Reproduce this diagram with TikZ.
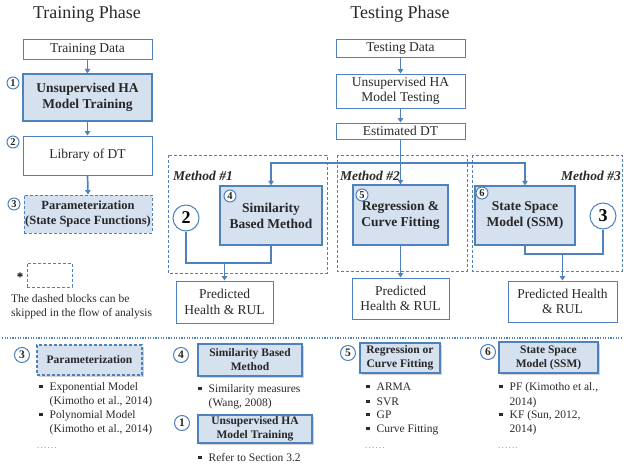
\documentclass[tikz,border=0pt]{standalone}
\usepackage{fontspec}
\setmainfont{Liberation Serif}
\usetikzlibrary{arrows.meta,shadows}
\definecolor{bl}{HTML}{4F81BD}
\definecolor{fillb}{HTML}{D6E1F0}
\definecolor{tx}{HTML}{2A2A2A}
\newcommand\sqb{\rule[2pt]{3.5pt}{3.5pt}}
\newcommand\blt{\makebox[10.5pt][l]{\sqb}}
\newcommand\mydots{.\hspace{1.2pt}.\hspace{1.2pt}.\hspace{1.2pt}.\hspace{1.2pt}.\hspace{1.2pt}.}
\begin{document}
\begin{tikzpicture}[x=1pt,y=-1pt,
  plainbox/.style={draw=bl, line width=0.9pt, fill=white, text=tx, inner sep=1pt, align=center, font=\fontsize{13.5}{15.5}\selectfont},
  shbox/.style={draw=bl, line width=1.3pt, fill=fillb, text=black!85, inner sep=1pt, align=center, font=\bfseries\fontsize{13.5}{16}\selectfont},
  dashbox/.style={draw=bl, line width=0.9pt, dash pattern=on 3pt off 2pt},
  sshadow/.style={drop shadow={shadow xshift=1.5pt, shadow yshift=-1.5pt, opacity=0.35}},
  arr/.style={draw=bl, line width=1.7pt, -{Triangle[length=4.5pt,width=5.5pt]}},
  link/.style={draw=bl, line width=1.7pt},
  numc/.style={circle, draw=bl, line width=1pt, fill=white, text=black!85, inner sep=0pt, minimum size=12pt, font=\bfseries\fontsize{10.5}{12}\selectfont},
  bnumc/.style={numc, minimum size=15pt, font=\bfseries\fontsize{11.5}{12}\selectfont},
  bignum/.style={circle, draw=bl, line width=1pt, fill=white, text=black, minimum size=26pt, inner sep=0pt, font=\bfseries\fontsize{18}{20}\selectfont},
  title/.style={text=tx, inner sep=0pt, anchor=base, font=\fontsize{18}{20}\selectfont},
  mlabel/.style={text=tx, inner sep=0pt, font=\bfseries\itshape\fontsize{13.5}{15}\selectfont},
  lst/.style={text=tx, inner sep=0pt, anchor=base west, font=\fontsize{11.5}{14}\selectfont},
  dots/.style={text=black!50, inner sep=0pt, anchor=base west, font=\fontsize{9}{10}\selectfont},
  bbox/.style={draw=bl, line width=1.2pt, fill=fillb, text=black!85, inner sep=1pt, align=center, font=\bfseries\fontsize{11.5}{14}\selectfont},
]
\useasboundingbox (0,0) rectangle (624,468);

% titles
\node[title] (t1) at (87,18.5) {Training Phase};
\node[title] (t2) at (400,18.5) {Testing Phase};

% training column
\node[plainbox, minimum width=129pt, minimum height=20pt] (trdata) at (87.5,49) {Training Data};
\node[shbox, minimum width=129pt, minimum height=47pt] (trha) at (87.5,97.5) {Unsupervised HA\\Model Training};
\node[plainbox, minimum width=129pt, minimum height=39pt] (lib) at (87.5,155.5) {Library of DT};
\node[shbox, dashbox, minimum width=128pt, minimum height=38pt, font=\bfseries\fontsize{12.5}{14.5}\selectfont] (param) at (88,214) {Parameterization\\(State Space Functions)};
\node[numc] (n1) at (13,83) {1};
\node[numc] (n2) at (13,142) {2};
\node[numc] (n3) at (14,204) {3};
\draw[arr] (trdata.south) -- (trha.north);
\draw[arr] (trha.south) -- (lib.north);
\draw[arr] (lib.south) -- (param.north);

% legend
\node[dashbox, minimum width=45pt, minimum height=24pt] (leg) at (49.5,275) {};
\node[text=black, inner sep=0pt, font=\bfseries\fontsize{13}{14}\selectfont] (star) at (20,277) {*};
\node[lst] (lg1) at (11,302) {The dashed blocks can be};
\node[lst] (lg2) at (11,316) {skipped in the flow of analysis};

% testing column
\node[plainbox, minimum width=129pt, minimum height=18pt] (tedata) at (400.5,48) {Testing Data};
\node[plainbox, minimum width=129pt, minimum height=34pt] (teha) at (400.5,91) {Unsupervised HA\\Model Testing};
\node[plainbox, minimum width=129pt, minimum height=16pt] (estdt) at (400.5,131) {Estimated DT};
\draw[arr] (tedata.south) -- (teha.north);
\draw[arr] (teha.south) -- (estdt.north);

% method frames
\draw[dashbox] (168,155) rectangle (327,273);
\draw[dashbox] (337,155) rectangle (467,271);
\draw[dashbox] (472,155) rectangle (622,271);
\node[mlabel, anchor=west] (ml1) at (173,176) {Method \#1};
\node[mlabel, anchor=west] (ml2) at (340,176) {Method \#2};
\node[mlabel, anchor=east] (ml3) at (621,176) {Method \#3};

% method boxes
\node[shbox, minimum width=102pt, minimum height=59pt] (sim) at (271,215.5) {Similarity\\Based Method};
\node[shbox, minimum width=95pt, minimum height=60pt] (reg) at (400.5,215) {Regression \&\\Curve Fitting};
\node[shbox, minimum width=100pt, minimum height=59pt] (ssm) at (525,215.5) {State Space\\Model (SSM)};
\node[numc] (n4) at (230,196) {4};
\node[numc] (n5) at (362,195) {5};
\node[numc] (n6) at (482,193) {6};
\node[bignum] (c2) at (186,218) {2};
\node[bignum] (c3) at (603,216) {3};

% predicted boxes
\node[plainbox, minimum width=97pt, minimum height=42pt] (pred1) at (224.5,302) {Predicted\\Health \& RUL};
\node[plainbox, minimum width=97pt, minimum height=41pt] (pred2) at (400.5,298.5) {Predicted\\Health \& RUL};
\node[plainbox, minimum width=109pt, minimum height=41pt] (pred3) at (562.5,301.5) {Predicted Health\\\& RUL};

% connectors
\coordinate (j) at (400.5,163);
\draw[arr] (estdt.south) -- (reg.north);
\draw[arr] (j) -| (sim.north);
\draw[arr] (j) -| (ssm.north);
\coordinate (m1j) at (224.5,263);
\draw[link] (c2.south) |- (m1j) -| (sim.south);
\draw[arr] (m1j) -- (pred1.north);
\draw[arr] (reg.south) -- (pred2.north);
\coordinate (m3j) at (562.5,254);
\draw[link] (ssm.south) |- (m3j) -| (c3.south);
\draw[arr] (m3j) -- (pred3.north);

% separator
\draw[bl, line width=1.3pt, dash pattern=on 1.2pt off 1.4pt] (2,338) -- (622,338);

% bottom: parameterization
\node[bbox, dashbox, line width=1.2pt, sshadow, minimum width=105pt, minimum height=30pt] (bparam) at (89.5,360) {Parameterization};
\node[bnumc] (bn3) at (22,355) {3};
\node[lst] (pl1) at (39,390) {\blt Exponential Model};
\node[lst] (pl2) at (49.5,404) {(Kimotho et al., 2014)};
\node[lst] (pl3) at (39,418) {\blt Polynomial Model};
\node[lst] (pl4) at (49.5,432) {(Kimotho et al., 2014)};
\node[dots] (pd) at (37,448) {\mydots};

% bottom: similarity + HA
\node[bbox, sshadow, minimum width=104pt, minimum height=32pt] (bsim) at (250,360) {Similarity Based\\Method};
\node[bnumc] (bn4) at (181,355) {4};
\node[lst] (sl1) at (198,392) {\blt Similarity measures};
\node[lst] (sl2) at (208.5,406) {(Wang, 2008)};
\node[bbox, sshadow, minimum width=114pt, minimum height=28pt] (bha) at (255,429) {Unsupervised HA\\Model Training};
\node[bnumc] (bn1) at (182,423) {1};
\node[lst] (hl1) at (198,461) {\blt Refer to Section 3.2};

% bottom: regression
\node[bbox, sshadow, minimum width=80pt, minimum height=30pt] (breg) at (400,358) {Regression or\\Curve Fitting};
\node[bnumc] (bn5) at (348,353) {5};
\node[lst] (rl1) at (366,390) {\blt ARMA};
\node[lst] (rl2) at (366,405) {\blt SVR};
\node[lst] (rl3) at (366,418) {\blt GP};
\node[lst] (rl4) at (366,432) {\blt Curve Fitting};
\node[dots] (rd) at (365,448) {\mydots};

% bottom: SSM
\node[bbox, sshadow, minimum width=99pt, minimum height=31pt] (bssm) at (548.5,357.5) {State Space\\Model (SSM)};
\node[bnumc] (bn6) at (488,352) {6};
\node[lst] (ql1) at (499,390) {\blt PF (Kimotho et al.,};
\node[lst] (ql2) at (509.5,405) {2014)};
\node[lst] (ql3) at (499,418) {\blt KF (Sun, 2012,};
\node[lst] (ql4) at (509.5,432) {2014)};
\node[dots] (qd) at (498,448) {\mydots};
\end{tikzpicture}
\end{document}
